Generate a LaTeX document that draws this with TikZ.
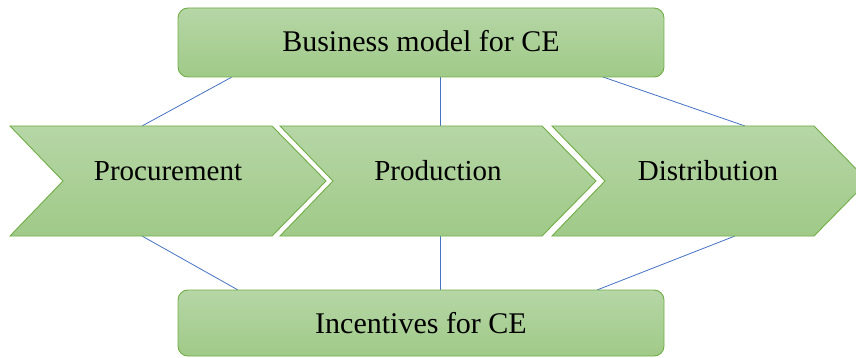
\documentclass[tikz,border=0pt]{standalone}
\usepackage{fontspec}
\setmainfont{Liberation Serif}
\definecolor{gtop}{RGB}{182,214,166}
\definecolor{gbot}{RGB}{160,202,136}
\definecolor{gborder}{RGB}{112,173,71}
\definecolor{cblue}{RGB}{68,114,196}
\begin{document}
\begin{tikzpicture}[x=1pt,y=-1pt,
  greenfill/.style={top color=gtop,bottom color=gbot,draw=gborder,line width=0.9pt},
  roundbox/.style={greenfill,rounded corners=10pt,minimum width=486pt,inner sep=0pt},
  conn/.style={draw=cblue,line width=0.8pt},
  boxtext/.style={font=\fontsize{30}{36}\selectfont,anchor=base,inner sep=0pt},
  chevtext/.style={font=\fontsize{29}{35}\selectfont,anchor=base,inner sep=0pt}]
\useasboundingbox (0,0) rectangle (856,358);
% connector end points
\coordinate (t1a) at (232,77);  \coordinate (t1b) at (142,126);
\coordinate (t2a) at (440,77);  \coordinate (t2b) at (440,126);
\coordinate (t3a) at (603,77);  \coordinate (t3b) at (745,126);
\coordinate (b1a) at (142,236); \coordinate (b1b) at (238,290);
\coordinate (b2a) at (440,236); \coordinate (b2b) at (440,290);
\coordinate (b3a) at (735,236); \coordinate (b3b) at (597,290);
\draw[conn] (t1a) -- (t1b);
\draw[conn] (t2a) -- (t2b);
\draw[conn] (t3a) -- (t3b);
\draw[conn] (b1a) -- (b1b);
\draw[conn] (b2a) -- (b2b);
\draw[conn] (b3a) -- (b3b);
% boxes
\node[roundbox,minimum height=69pt] (bm) at (421,42.5) {};
\node[roundbox,minimum height=66pt] (inc) at (421,323) {};
\node[boxtext] (bmt) at (421,52) {Business model for CE};
\node[boxtext] (inct) at (421,333) {Incentives for CE};
% chevrons
\foreach \L in {10,280,552}{
  \path[greenfill] (\L,126) -- ({\L+262},126) -- ({\L+316},181) -- ({\L+262},236)
    -- (\L,236) -- ({\L+53},181) -- cycle;
}
\node[chevtext] (p1) at (168,181) {Procurement};
\node[chevtext] (p2) at (438,181) {Production};
\node[chevtext] (p3) at (708,181) {Distribution};
\end{tikzpicture}
\end{document}
